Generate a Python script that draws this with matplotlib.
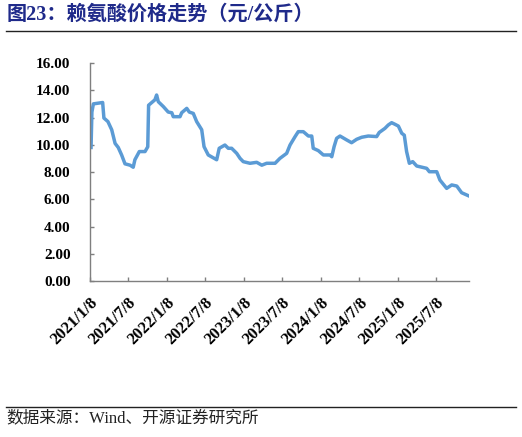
import matplotlib
matplotlib.use("Agg")
import matplotlib.pyplot as plt
from matplotlib.lines import Line2D
import pandas as pd

dates = ["2021-01-13", "2021-01-17", "2021-01-24", "2021-03-09", "2021-03-15", "2021-04-03",
         "2021-04-21", "2021-05-07", "2021-05-22", "2021-06-07", "2021-06-23", "2021-07-17",
         "2021-08-01", "2021-08-09", "2021-08-30", "2021-09-26", "2021-10-09", "2021-10-13",
         "2021-10-28", "2021-11-12", "2021-11-20", "2021-11-28", "2021-12-22", "2022-01-14",
         "2022-01-31", "2022-02-07", "2022-03-11", "2022-03-19", "2022-04-12", "2022-04-24",
         "2022-05-13", "2022-05-29", "2022-06-22", "2022-07-03", "2022-07-23", "2022-09-01",
         "2022-09-13", "2022-10-10", "2022-10-26", "2022-11-11", "2022-12-05", "2022-12-21",
         "2023-01-05", "2023-02-06", "2023-03-10", "2023-04-03", "2023-04-26", "2023-06-05",
         "2023-06-28", "2023-07-30", "2023-08-15", "2023-09-08", "2023-09-23", "2023-10-17",
         "2023-11-10", "2023-11-26", "2023-12-03", "2023-12-27", "2024-01-20", "2024-02-21",
         "2024-02-29", "2024-03-11", "2024-03-23", "2024-04-08", "2024-05-10", "2024-06-02",
         "2024-06-26", "2024-07-20", "2024-08-20", "2024-09-29", "2024-10-11", "2024-11-07",
         "2024-11-23", "2024-12-09", "2024-12-25", "2025-01-10", "2025-01-26", "2025-02-07",
         "2025-02-18", "2025-03-03", "2025-03-19", "2025-04-07", "2025-05-24", "2025-06-06",
         "2025-07-11", "2025-07-26", "2025-08-27", "2025-09-20", "2025-10-14", "2025-11-06",
         "2025-12-08"]
prices = [9.8, 12.4, 13.0, 13.1, 11.96, 11.7,
          11.1, 10.1, 9.8, 9.25, 8.6, 8.5,
          8.35, 8.9, 9.5, 9.5, 9.85, 12.9,
          13.1, 13.3, 13.65, 13.16, 12.8, 12.4,
          12.35, 12.06, 12.06, 12.35, 12.67, 12.4,
          12.3, 11.7, 11.1, 9.86, 9.25, 8.9,
          9.74, 9.98, 9.74, 9.74, 9.37, 9.0,
          8.76, 8.64, 8.71, 8.5, 8.64, 8.64,
          9.0, 9.37, 9.98, 10.6, 10.96, 10.96,
          10.64, 10.64, 9.74, 9.57, 9.25, 9.25,
          9.12, 9.86, 10.47, 10.64, 10.35, 10.15,
          10.4, 10.55, 10.64, 10.6, 10.9, 11.2,
          11.45, 11.62, 11.5, 11.37, 10.84, 10.7,
          9.5, 8.64, 8.76, 8.44, 8.27, 8.02,
          8.02, 7.41, 6.8, 7.05, 6.97, 6.48,
          6.26]
tick_dates = ["2021-01-08", "2021-07-08", "2022-01-08", "2022-07-08", "2023-01-08",
              "2023-07-08", "2024-01-08", "2024-07-08", "2025-01-08", "2025-07-08"]
tick_labels = ["2021/1/8", "2021/7/8", "2022/1/8", "2022/7/8", "2023/1/8",
               "2023/7/8", "2024/1/8", "2024/7/8", "2025/1/8", "2025/7/8"]
y_ticks = [0, 2, 4, 6, 8, 10, 12, 14, 16]
y_labels = ["0.00", "2.00", "4.00", "6.00", "8.00", "10.00", "12.00", "14.00", "16.00"]

title = "图23：赖氨酸价格走势（元/公斤）"
source = "数据来源：Wind、开源证券研究所"

W, H = 522, 437
fig = plt.figure(figsize=(W / 100, H / 100), dpi=100)
ax = fig.add_axes([90 / W, 1 - 281 / H, (469 - 90) / W, (281 - 63) / H])

x = pd.to_datetime(dates)
ax.plot(x, prices, color="#5B9BD5", linewidth=2.5, solid_joinstyle="round")

ax.set_xlim(pd.Timestamp("2021-01-08"), pd.Timestamp("2025-12-11"))
ax.set_ylim(0, 16)

ax.set_yticks(y_ticks)
ax.set_yticklabels(y_labels, fontfamily="Liberation Serif", fontweight="bold", fontsize=11)
ax.set_xticks(pd.to_datetime(tick_dates))
ax.set_xticklabels(tick_labels, fontfamily="Liberation Serif", fontweight="bold", fontsize=12,
                   rotation=45, ha="right", va="top", rotation_mode="anchor")

for s in ["top", "right"]:
    ax.spines[s].set_visible(False)
for s in ["left", "bottom"]:
    ax.spines[s].set_color("#7f7f7f")
    ax.spines[s].set_linewidth(1.0)
ax.tick_params(axis="both", direction="in", length=3, color="#7f7f7f", width=1.0)
ax.tick_params(axis="y", pad=14)
ax.tick_params(axis="x", pad=10)

fig.text(7 / W, 1 - 15 / H, title, fontsize=14.5, fontweight="bold", color="#1F2A8A",
         family=["Liberation Serif", "Noto Sans CJK SC"], ha="left", va="center")
fig.add_artist(Line2D([6 / W, 516 / W], [1 - 31 / H, 1 - 31 / H], color="#222222", linewidth=1.0,
                      transform=fig.transFigure))
fig.add_artist(Line2D([6 / W, 516 / W], [1 - 407 / H, 1 - 407 / H], color="#222222", linewidth=1.0,
                      transform=fig.transFigure))
fig.text(6 / W, 1 - 418 / H, source, fontsize=12, color="#222222",
         family=["Liberation Serif", "Noto Sans CJK SC"], ha="left", va="center")

fig.savefig("out.png", dpi=100)
